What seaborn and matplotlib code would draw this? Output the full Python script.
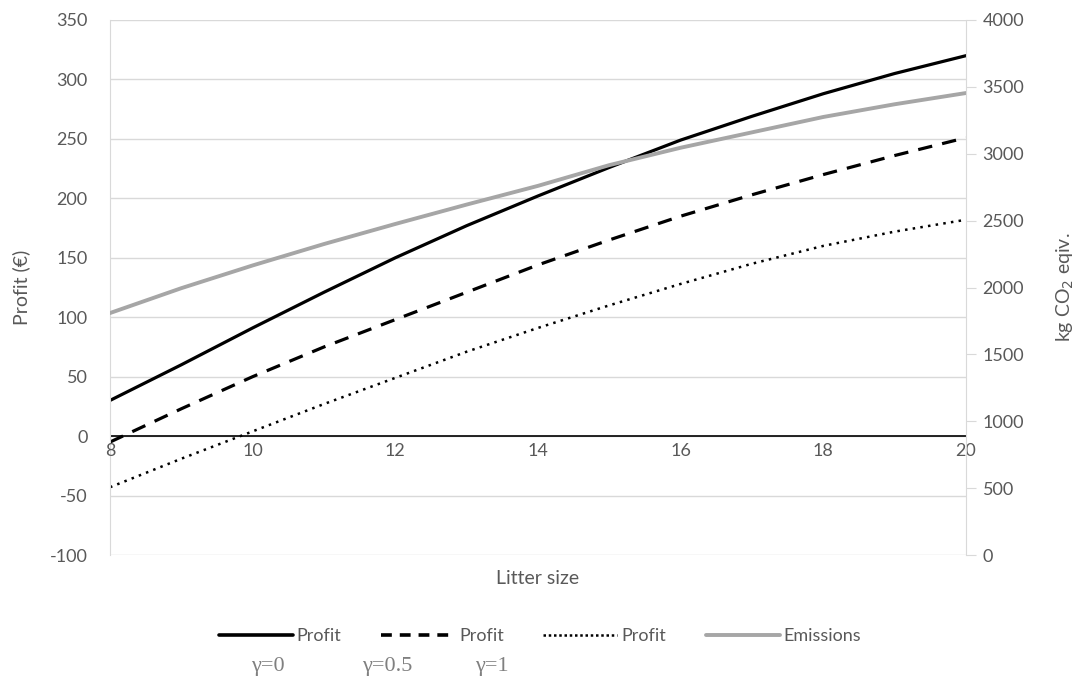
import matplotlib
matplotlib.use("Agg")
import matplotlib.pyplot as plt
import seaborn as sns
import pandas as pd
from matplotlib.lines import Line2D

litter_size = [8, 9, 10, 11, 12, 13, 14, 15, 16, 17, 18, 19, 20]
profit_g0 = [30, 60, 91, 121, 150, 177, 202, 226, 249, 269, 288, 305, 320]
profit_g05 = [-5, 23, 50, 75, 98, 121, 144, 165, 185, 203, 220, 236, 251]
profit_g1 = [-43, -19, 4, 27, 49, 71, 91, 110, 128, 145, 160, 172, 182]
emissions = [1809, 1995, 2165, 2325, 2475, 2620, 2760, 2915, 3045, 3160, 3275, 3370, 3454]

x_ticks = [8, 10, 12, 14, 16, 18, 20]
left_ticks = [-100, -50, 0, 50, 100, 150, 200, 250, 300, 350]
right_ticks = [0, 500, 1000, 1500, 2000, 2500, 3000, 3500, 4000]
legend_labels = ["Profit", "Profit", "Profit", "Emissions"]
gamma_labels = ["γ=0", "γ=0.5", "γ=1"]

sns.set_style("white")
plt.rcParams["font.family"] = ["Lato", "DejaVu Sans"]
plt.rcParams["axes.unicode_minus"] = False

TXT = "#595959"
GRID = "#d9d9d9"
FS = 13

df = pd.DataFrame({"x": litter_size, "p0": profit_g0, "p05": profit_g05,
                   "p1": profit_g1, "em": emissions})

fig = plt.figure(figsize=(10.81, 6.86), dpi=100)
ax = fig.add_axes([110 / 1081, 1 - 555 / 686, (966 - 110) / 1081, (555 - 20) / 686])
ax2 = ax.twinx()

sns.lineplot(data=df, x="x", y="p0", ax=ax, color="black", lw=2.3)
sns.lineplot(data=df, x="x", y="p05", ax=ax, color="black", lw=2.3,
             linestyle=(0, (4.5, 3.2)))
sns.lineplot(data=df, x="x", y="p1", ax=ax, color="black", lw=1.8,
             linestyle=(0, (1, 2.1)))
sns.lineplot(data=df, x="x", y="em", ax=ax2, color="#a6a6a6", lw=2.8)

ax.set_xlim(8, 20)
ax.set_ylim(-100, 350)
ax2.set_ylim(0, 4000)
ax.set_yticks(left_ticks)
ax2.set_yticks(right_ticks)
ax.set_xticks(x_ticks)

ax.grid(axis="y", color=GRID, lw=1)
ax.set_axisbelow(True)
ax.axhline(0, color="black", lw=1.2, zorder=1.5)

for a in (ax, ax2):
    a.spines["top"].set_visible(False)
    a.spines["bottom"].set_visible(False)
ax.spines["left"].set_color(GRID)
ax2.spines["left"].set_visible(False)
ax.spines["right"].set_visible(False)
ax2.spines["right"].set_color(GRID)

ax.tick_params(axis="y", length=0, labelsize=FS, labelcolor=TXT, pad=16)
ax.tick_params(axis="x", length=0)
ax2.tick_params(axis="y", length=7, color=GRID, labelsize=FS, labelcolor=TXT, pad=5)

# x tick labels placed just below the zero line
ax.set_xticklabels([])
for t in x_ticks:
    ax.text(t, -6, str(t), ha="center", va="top", fontsize=FS, color=TXT)

ax.set_xlabel("")
ax.set_ylabel("Profit (€)", fontsize=14, color=TXT, labelpad=14)
ax2.set_ylabel("kg CO$_2$ eqiv.", fontsize=14, color=TXT, labelpad=22)
fig.text((110 + 966) / 2 / 1081, 1 - 578 / 686, "Litter size", ha="center",
         va="center", fontsize=14, color=TXT)

handles = [
    Line2D([], [], color="black", lw=2.6),
    Line2D([], [], color="black", lw=2.6, linestyle=(0, (3, 2.2))),
    Line2D([], [], color="black", lw=1.8, linestyle=(0, (1, 1.1))),
    Line2D([], [], color="#a6a6a6", lw=2.8),
]
leg = fig.legend(handles, legend_labels, loc="center", ncol=4,
                 bbox_to_anchor=(540 / 1081, 1 - 636 / 686), frameon=False,
                 fontsize=FS, handlelength=4.1, handletextpad=0.2,
                 columnspacing=2.2)
for t in leg.get_texts():
    t.set_color(TXT)

for gx, g in zip([268, 387, 492], gamma_labels):
    fig.text(gx / 1081, 1 - 666 / 686, g, ha="center", va="center",
             fontsize=16, color="#808080", family=["Liberation Serif", "DejaVu Serif"])

fig.savefig("out.png", dpi=100)
